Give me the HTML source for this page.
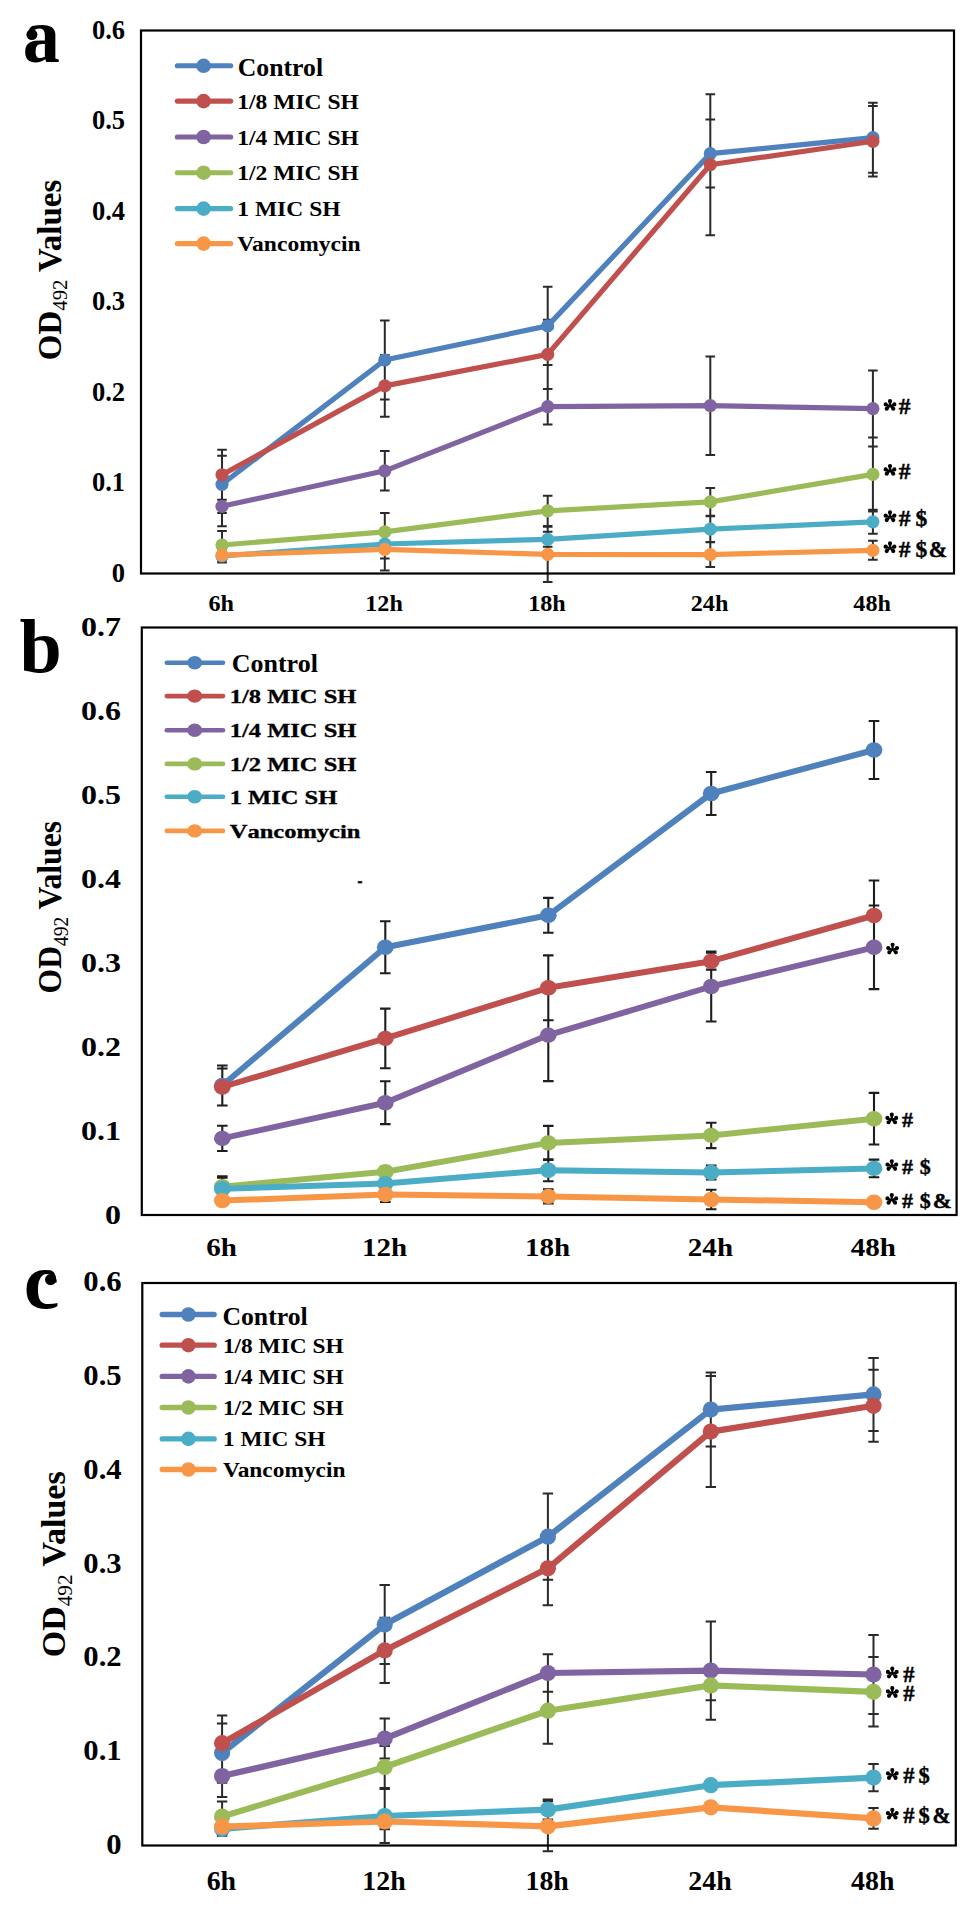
<!DOCTYPE html><html><head><meta charset="utf-8"><title>OD492 growth curves</title>
<style>html,body{margin:0;padding:0;background:#fff}body{width:968px;height:1907px;overflow:hidden}svg{display:block}text{font-family:"Liberation Serif",serif;font-weight:bold;fill:#000}.r{font-weight:normal}</style></head><body>
<svg width="968" height="1907" viewBox="0 0 968 1907">
<rect width="968" height="1907" fill="#fff"/>
<path d="M222 455.7V512.9M217.2 455.7H226.8M217.2 512.9H226.8M384.8 320.5V399.5M380 320.5H389.6M380 399.5H389.6M547.7 286.8V365M542.9 286.8H552.5M542.9 365H552.5M710.3 119.6V187.6M705.5 119.6H715.1M705.5 187.6H715.1M872.9 102.7V172.7M868.1 102.7H877.7M868.1 172.7H877.7M222 449.75V499.75M217.2 449.75H226.8M217.2 499.75H226.8M384.8 355.1V416.7M380 355.1H389.6M380 416.7H389.6M547.7 319.7V389.1M542.9 319.7H552.5M542.9 389.1H552.5M710.3 94.2V235.2M705.5 94.2H715.1M705.5 235.2H715.1M872.9 106.1V176.5M868.1 106.1H877.7M868.1 176.5H877.7M222 486.3V526.3M217.2 486.3H226.8M217.2 526.3H226.8M384.8 451V490.6M380 451H389.6M380 490.6H389.6M547.7 389V424.4M542.9 389H552.5M542.9 424.4H552.5M710.3 356.5V454.9M705.5 356.5H715.1M705.5 454.9H715.1M872.9 370.6V446.6M868.1 370.6H877.7M868.1 446.6H877.7M222 531V559M217.2 531H226.8M217.2 559H226.8M384.8 512.9V550.9M380 512.9H389.6M380 550.9H389.6M547.7 495.7V525.9M542.9 495.7H552.5M542.9 525.9H552.5M710.3 488V515.8M705.5 488H715.1M705.5 515.8H715.1M872.9 437.4V511.4M868.1 437.4H877.7M868.1 511.4H877.7M222 549.4V562.6M217.2 549.4H226.8M217.2 562.6H226.8M384.8 529.6V558.4M380 529.6H389.6M380 558.4H389.6M547.7 531.8V546.8M542.9 531.8H552.5M542.9 546.8H552.5M710.3 516.2V542.2M705.5 516.2H715.1M705.5 542.2H715.1M872.9 509.8V533.8M868.1 509.8H877.7M868.1 533.8H877.7M222 549.1V561.1M217.2 549.1H226.8M217.2 561.1H226.8M384.8 528.4V570.4M380 528.4H389.6M380 570.4H389.6M547.7 526.7V582.1M542.9 526.7H552.5M542.9 582.1H552.5M710.3 542.1V567.1M705.5 542.1H715.1M705.5 567.1H715.1M872.9 540.8V559.8M868.1 540.8H877.7M868.1 559.8H877.7" stroke="#2a2a2a" stroke-width="2" fill="none"/>
<polyline points="222,484.3 384.8,360 547.7,325.9 710.3,153.6 872.9,137.7" stroke="#4F81BD" stroke-width="5.2" fill="none" stroke-linejoin="round" stroke-linecap="round"/>
<circle cx="222" cy="484.3" r="6.6" fill="#4F81BD"/>
<circle cx="384.8" cy="360" r="6.6" fill="#4F81BD"/>
<circle cx="547.7" cy="325.9" r="6.6" fill="#4F81BD"/>
<circle cx="710.3" cy="153.6" r="6.6" fill="#4F81BD"/>
<circle cx="872.9" cy="137.7" r="6.6" fill="#4F81BD"/>
<polyline points="222,474.75 384.8,385.9 547.7,354.4 710.3,164.7 872.9,141.3" stroke="#C0504D" stroke-width="5.2" fill="none" stroke-linejoin="round" stroke-linecap="round"/>
<circle cx="222" cy="474.75" r="6.6" fill="#C0504D"/>
<circle cx="384.8" cy="385.9" r="6.6" fill="#C0504D"/>
<circle cx="547.7" cy="354.4" r="6.6" fill="#C0504D"/>
<circle cx="710.3" cy="164.7" r="6.6" fill="#C0504D"/>
<circle cx="872.9" cy="141.3" r="6.6" fill="#C0504D"/>
<polyline points="222,506.3 384.8,470.8 547.7,406.7 710.3,405.7 872.9,408.6" stroke="#8064A2" stroke-width="5.2" fill="none" stroke-linejoin="round" stroke-linecap="round"/>
<circle cx="222" cy="506.3" r="6.6" fill="#8064A2"/>
<circle cx="384.8" cy="470.8" r="6.6" fill="#8064A2"/>
<circle cx="547.7" cy="406.7" r="6.6" fill="#8064A2"/>
<circle cx="710.3" cy="405.7" r="6.6" fill="#8064A2"/>
<circle cx="872.9" cy="408.6" r="6.6" fill="#8064A2"/>
<polyline points="222,545 384.8,531.9 547.7,510.8 710.3,501.9 872.9,474.4" stroke="#9BBB59" stroke-width="5.2" fill="none" stroke-linejoin="round" stroke-linecap="round"/>
<circle cx="222" cy="545" r="6.6" fill="#9BBB59"/>
<circle cx="384.8" cy="531.9" r="6.6" fill="#9BBB59"/>
<circle cx="547.7" cy="510.8" r="6.6" fill="#9BBB59"/>
<circle cx="710.3" cy="501.9" r="6.6" fill="#9BBB59"/>
<circle cx="872.9" cy="474.4" r="6.6" fill="#9BBB59"/>
<polyline points="222,556 384.8,544 547.7,539.3 710.3,529.2 872.9,521.8" stroke="#4BACC6" stroke-width="5.2" fill="none" stroke-linejoin="round" stroke-linecap="round"/>
<circle cx="222" cy="556" r="6.6" fill="#4BACC6"/>
<circle cx="384.8" cy="544" r="6.6" fill="#4BACC6"/>
<circle cx="547.7" cy="539.3" r="6.6" fill="#4BACC6"/>
<circle cx="710.3" cy="529.2" r="6.6" fill="#4BACC6"/>
<circle cx="872.9" cy="521.8" r="6.6" fill="#4BACC6"/>
<polyline points="222,555.1 384.8,549.4 547.7,554.4 710.3,554.6 872.9,550.3" stroke="#F79646" stroke-width="5.2" fill="none" stroke-linejoin="round" stroke-linecap="round"/>
<circle cx="222" cy="555.1" r="6.6" fill="#F79646"/>
<circle cx="384.8" cy="549.4" r="6.6" fill="#F79646"/>
<circle cx="547.7" cy="554.4" r="6.6" fill="#F79646"/>
<circle cx="710.3" cy="554.6" r="6.6" fill="#F79646"/>
<circle cx="872.9" cy="550.3" r="6.6" fill="#F79646"/>
<rect x="141" y="30.5" width="813" height="543" fill="none" stroke="#000" stroke-width="2.2"/>
<path d="M222.3 1065.5V1105.5M217 1065.5H227.6M217 1105.5H227.6M385.3 921.3V973.3M380 921.3H390.6M380 973.3H390.6M548.3 897.9V932.7M543 897.9H553.6M543 932.7H553.6M711.2 772V815M705.9 772H716.5M705.9 815H716.5M874 721V779M868.7 721H879.3M868.7 779H879.3M222.3 1068.5V1105.5M217 1068.5H227.6M217 1105.5H227.6M385.3 1008.6V1068.2M380 1008.6H390.6M380 1068.2H390.6M548.3 955.4V1020.2M543 955.4H553.6M543 1020.2H553.6M711.2 952.8V969.6M705.9 952.8H716.5M705.9 969.6H716.5M874 880.5V950.5M868.7 880.5H879.3M868.7 950.5H879.3M222.3 1125.8V1151M217 1125.8H227.6M217 1151H227.6M385.3 1081.3V1124.1M380 1081.3H390.6M380 1124.1H390.6M548.3 989.1V1081.1M543 989.1H553.6M543 1081.1H553.6M711.2 951.5V1021.5M705.9 951.5H716.5M705.9 1021.5H716.5M874 905.5V989.1M868.7 905.5H879.3M868.7 989.1H879.3M222.3 1176.2V1197.2M217 1176.2H227.6M217 1197.2H227.6M385.3 1166.8V1176.8M380 1166.8H390.6M380 1176.8H390.6M548.3 1125.9V1159.9M543 1125.9H553.6M543 1159.9H553.6M711.2 1122.7V1148.1M705.9 1122.7H716.5M705.9 1148.1H716.5M874 1092.9V1144.5M868.7 1092.9H879.3M868.7 1144.5H879.3M222.3 1177.8V1199.8M217 1177.8H227.6M217 1199.8H227.6M385.3 1178.6V1188.6M380 1178.6H390.6M380 1188.6H390.6M548.3 1159.2V1181.2M543 1159.2H553.6M543 1181.2H553.6M711.2 1165.5V1179.5M705.9 1165.5H716.5M705.9 1179.5H716.5M874 1159.6V1177.2M868.7 1159.6H879.3M868.7 1177.2H879.3M222.3 1197.6V1203.6M217 1197.6H227.6M217 1203.6H227.6M385.3 1187V1202M380 1187H390.6M380 1202H390.6M548.3 1189.4V1203.4M543 1189.4H553.6M543 1203.4H553.6M711.2 1189.8V1209.2M705.9 1189.8H716.5M705.9 1209.2H716.5M874 1198.3V1206.3M868.7 1198.3H879.3M868.7 1206.3H879.3" stroke="#1e1e1e" stroke-width="2.1" fill="none"/>
<polyline points="222.3,1085.5 385.3,947.3 548.3,915.3 711.2,793.5 874,750" stroke="#4F81BD" stroke-width="6" fill="none" stroke-linejoin="round" stroke-linecap="round"/>
<ellipse cx="222.3" cy="1085.5" rx="8.4" ry="7.7" fill="#4F81BD"/>
<ellipse cx="385.3" cy="947.3" rx="8.4" ry="7.7" fill="#4F81BD"/>
<ellipse cx="548.3" cy="915.3" rx="8.4" ry="7.7" fill="#4F81BD"/>
<ellipse cx="711.2" cy="793.5" rx="8.4" ry="7.7" fill="#4F81BD"/>
<ellipse cx="874" cy="750" rx="8.4" ry="7.7" fill="#4F81BD"/>
<polyline points="222.3,1087 385.3,1038.4 548.3,987.8 711.2,961.2 874,915.5" stroke="#C0504D" stroke-width="6" fill="none" stroke-linejoin="round" stroke-linecap="round"/>
<ellipse cx="222.3" cy="1087" rx="8.4" ry="7.7" fill="#C0504D"/>
<ellipse cx="385.3" cy="1038.4" rx="8.4" ry="7.7" fill="#C0504D"/>
<ellipse cx="548.3" cy="987.8" rx="8.4" ry="7.7" fill="#C0504D"/>
<ellipse cx="711.2" cy="961.2" rx="8.4" ry="7.7" fill="#C0504D"/>
<ellipse cx="874" cy="915.5" rx="8.4" ry="7.7" fill="#C0504D"/>
<polyline points="222.3,1138.4 385.3,1102.7 548.3,1035.1 711.2,986.5 874,947.3" stroke="#8064A2" stroke-width="6" fill="none" stroke-linejoin="round" stroke-linecap="round"/>
<ellipse cx="222.3" cy="1138.4" rx="8.4" ry="7.7" fill="#8064A2"/>
<ellipse cx="385.3" cy="1102.7" rx="8.4" ry="7.7" fill="#8064A2"/>
<ellipse cx="548.3" cy="1035.1" rx="8.4" ry="7.7" fill="#8064A2"/>
<ellipse cx="711.2" cy="986.5" rx="8.4" ry="7.7" fill="#8064A2"/>
<ellipse cx="874" cy="947.3" rx="8.4" ry="7.7" fill="#8064A2"/>
<polyline points="222.3,1186.7 385.3,1171.8 548.3,1142.9 711.2,1135.4 874,1118.7" stroke="#9BBB59" stroke-width="6" fill="none" stroke-linejoin="round" stroke-linecap="round"/>
<ellipse cx="222.3" cy="1186.7" rx="8.4" ry="7.7" fill="#9BBB59"/>
<ellipse cx="385.3" cy="1171.8" rx="8.4" ry="7.7" fill="#9BBB59"/>
<ellipse cx="548.3" cy="1142.9" rx="8.4" ry="7.7" fill="#9BBB59"/>
<ellipse cx="711.2" cy="1135.4" rx="8.4" ry="7.7" fill="#9BBB59"/>
<ellipse cx="874" cy="1118.7" rx="8.4" ry="7.7" fill="#9BBB59"/>
<polyline points="222.3,1188.8 385.3,1183.6 548.3,1170.2 711.2,1172.5 874,1168.4" stroke="#4BACC6" stroke-width="6" fill="none" stroke-linejoin="round" stroke-linecap="round"/>
<ellipse cx="222.3" cy="1188.8" rx="8.4" ry="7.7" fill="#4BACC6"/>
<ellipse cx="385.3" cy="1183.6" rx="8.4" ry="7.7" fill="#4BACC6"/>
<ellipse cx="548.3" cy="1170.2" rx="8.4" ry="7.7" fill="#4BACC6"/>
<ellipse cx="711.2" cy="1172.5" rx="8.4" ry="7.7" fill="#4BACC6"/>
<ellipse cx="874" cy="1168.4" rx="8.4" ry="7.7" fill="#4BACC6"/>
<polyline points="222.3,1200.6 385.3,1194.5 548.3,1196.4 711.2,1199.5 874,1202.3" stroke="#F79646" stroke-width="6" fill="none" stroke-linejoin="round" stroke-linecap="round"/>
<ellipse cx="222.3" cy="1200.6" rx="8.4" ry="7.7" fill="#F79646"/>
<ellipse cx="385.3" cy="1194.5" rx="8.4" ry="7.7" fill="#F79646"/>
<ellipse cx="548.3" cy="1196.4" rx="8.4" ry="7.7" fill="#F79646"/>
<ellipse cx="711.2" cy="1199.5" rx="8.4" ry="7.7" fill="#F79646"/>
<ellipse cx="874" cy="1202.3" rx="8.4" ry="7.7" fill="#F79646"/>
<rect x="141.8" y="627.5" width="814.8" height="587.5" fill="none" stroke="#000" stroke-width="2.2"/>
<path d="M222.1 1723.4V1782.8M216.9 1723.4H227.3M216.9 1782.8H227.3M384.7 1585.1V1664.1M379.5 1585.1H389.9M379.5 1664.1H389.9M547.9 1493.6V1579.8M542.7 1493.6H553.1M542.7 1579.8H553.1M710.8 1372.6V1446.6M705.6 1372.6H716M705.6 1446.6H716M873.5 1357.9V1430.9M868.3 1357.9H878.7M868.3 1430.9H878.7M222.1 1715.6V1770.8M216.9 1715.6H227.3M216.9 1770.8H227.3M384.7 1617.7V1683.1M379.5 1617.7H389.9M379.5 1683.1H389.9M547.9 1531.4V1605.2M542.7 1531.4H553.1M542.7 1605.2H553.1M710.8 1376.1V1487.1M705.6 1376.1H716M705.6 1487.1H716M873.5 1369.8V1441.8M868.3 1369.8H878.7M868.3 1441.8H878.7M222.1 1755.1V1797.1M216.9 1755.1H227.3M216.9 1797.1H227.3M384.7 1718.6V1758.6M379.5 1718.6H389.9M379.5 1758.6H389.9M547.9 1654.3V1691.7M542.7 1654.3H553.1M542.7 1691.7H553.1M710.8 1621.4V1719.8M705.6 1621.4H716M705.6 1719.8H716M873.5 1635V1714M868.3 1635H878.7M868.3 1714H878.7M222.1 1801.4V1831.8M216.9 1801.4H227.3M216.9 1831.8H227.3M384.7 1746V1788M379.5 1746H389.9M379.5 1788H389.9M547.9 1677.7V1743.7M542.7 1677.7H553.1M542.7 1743.7H553.1M710.8 1670.6V1700.2M705.6 1670.6H716M705.6 1700.2H716M873.5 1657V1726.6M868.3 1657H878.7M868.3 1726.6H878.7M222.1 1821.8V1835.8M216.9 1821.8H227.3M216.9 1835.8H227.3M384.7 1789V1843M379.5 1789H389.9M379.5 1843H389.9M547.9 1799.6V1819.6M542.7 1799.6H553.1M542.7 1819.6H553.1M710.8 1782.2V1788.2M705.6 1782.2H716M705.6 1788.2H716M873.5 1764V1791.2M868.3 1764H878.7M868.3 1791.2H878.7M222.1 1819.7V1833.7M216.9 1819.7H227.3M216.9 1833.7H227.3M384.7 1813.7V1829.3M379.5 1813.7H389.9M379.5 1829.3H389.9M547.9 1801.3V1851.3M542.7 1801.3H553.1M542.7 1851.3H553.1M710.8 1802.3V1812.3M705.6 1802.3H716M705.6 1812.3H716M873.5 1808V1828.8M868.3 1808H878.7M868.3 1828.8H878.7" stroke="#2a2a2a" stroke-width="2" fill="none"/>
<polyline points="222.1,1753.1 384.7,1624.6 547.9,1536.7 710.8,1409.6 873.5,1394.4" stroke="#4F81BD" stroke-width="6.2" fill="none" stroke-linejoin="round" stroke-linecap="round"/>
<circle cx="222.1" cy="1753.1" r="8.1" fill="#4F81BD"/>
<circle cx="384.7" cy="1624.6" r="8.1" fill="#4F81BD"/>
<circle cx="547.9" cy="1536.7" r="8.1" fill="#4F81BD"/>
<circle cx="710.8" cy="1409.6" r="8.1" fill="#4F81BD"/>
<circle cx="873.5" cy="1394.4" r="8.1" fill="#4F81BD"/>
<polyline points="222.1,1743.2 384.7,1650.4 547.9,1568.3 710.8,1431.6 873.5,1405.8" stroke="#C0504D" stroke-width="6.2" fill="none" stroke-linejoin="round" stroke-linecap="round"/>
<circle cx="222.1" cy="1743.2" r="8.1" fill="#C0504D"/>
<circle cx="384.7" cy="1650.4" r="8.1" fill="#C0504D"/>
<circle cx="547.9" cy="1568.3" r="8.1" fill="#C0504D"/>
<circle cx="710.8" cy="1431.6" r="8.1" fill="#C0504D"/>
<circle cx="873.5" cy="1405.8" r="8.1" fill="#C0504D"/>
<polyline points="222.1,1776.1 384.7,1738.6 547.9,1673 710.8,1670.6 873.5,1674.5" stroke="#8064A2" stroke-width="6.2" fill="none" stroke-linejoin="round" stroke-linecap="round"/>
<circle cx="222.1" cy="1776.1" r="8.1" fill="#8064A2"/>
<circle cx="384.7" cy="1738.6" r="8.1" fill="#8064A2"/>
<circle cx="547.9" cy="1673" r="8.1" fill="#8064A2"/>
<circle cx="710.8" cy="1670.6" r="8.1" fill="#8064A2"/>
<circle cx="873.5" cy="1674.5" r="8.1" fill="#8064A2"/>
<polyline points="222.1,1816.6 384.7,1767 547.9,1710.7 710.8,1685.4 873.5,1691.8" stroke="#9BBB59" stroke-width="6.2" fill="none" stroke-linejoin="round" stroke-linecap="round"/>
<circle cx="222.1" cy="1816.6" r="8.1" fill="#9BBB59"/>
<circle cx="384.7" cy="1767" r="8.1" fill="#9BBB59"/>
<circle cx="547.9" cy="1710.7" r="8.1" fill="#9BBB59"/>
<circle cx="710.8" cy="1685.4" r="8.1" fill="#9BBB59"/>
<circle cx="873.5" cy="1691.8" r="8.1" fill="#9BBB59"/>
<polyline points="222.1,1828.8 384.7,1816 547.9,1809.6 710.8,1785.2 873.5,1777.6" stroke="#4BACC6" stroke-width="6.2" fill="none" stroke-linejoin="round" stroke-linecap="round"/>
<circle cx="222.1" cy="1828.8" r="8.1" fill="#4BACC6"/>
<circle cx="384.7" cy="1816" r="8.1" fill="#4BACC6"/>
<circle cx="547.9" cy="1809.6" r="8.1" fill="#4BACC6"/>
<circle cx="710.8" cy="1785.2" r="8.1" fill="#4BACC6"/>
<circle cx="873.5" cy="1777.6" r="8.1" fill="#4BACC6"/>
<polyline points="222.1,1826.7 384.7,1821.5 547.9,1826.3 710.8,1807.3 873.5,1818.4" stroke="#F79646" stroke-width="6.2" fill="none" stroke-linejoin="round" stroke-linecap="round"/>
<circle cx="222.1" cy="1826.7" r="8.1" fill="#F79646"/>
<circle cx="384.7" cy="1821.5" r="8.1" fill="#F79646"/>
<circle cx="547.9" cy="1826.3" r="8.1" fill="#F79646"/>
<circle cx="710.8" cy="1807.3" r="8.1" fill="#F79646"/>
<circle cx="873.5" cy="1818.4" r="8.1" fill="#F79646"/>
<rect x="142.3" y="1283" width="813.5" height="562.5" fill="none" stroke="#000" stroke-width="2.2"/>
<text transform="translate(22.66 61.9) scale(0.94 1)" font-size="79">a</text>
<text x="19.6" y="671.5" font-size="76">b</text>
<text x="23.8" y="1307.7" font-size="80.5">c</text>
<text x="125" y="581.5" font-size="26.5" text-anchor="end">0</text>
<text x="125" y="491" font-size="26.5" text-anchor="end">0.1</text>
<text x="125" y="400.5" font-size="26.5" text-anchor="end">0.2</text>
<text x="125" y="310" font-size="26.5" text-anchor="end">0.3</text>
<text x="125" y="219.5" font-size="26.5" text-anchor="end">0.4</text>
<text x="125" y="129" font-size="26.5" text-anchor="end">0.5</text>
<text x="125" y="38.5" font-size="26.5" text-anchor="end">0.6</text>
<text transform="translate(120.9 1223.9) scale(1.13 1)" font-size="28.3" text-anchor="end">0</text>
<text transform="translate(120.9 1139.97) scale(1.13 1)" font-size="28.3" text-anchor="end">0.1</text>
<text transform="translate(120.9 1056.04) scale(1.13 1)" font-size="28.3" text-anchor="end">0.2</text>
<text transform="translate(120.9 972.11) scale(1.13 1)" font-size="28.3" text-anchor="end">0.3</text>
<text transform="translate(120.9 888.19) scale(1.13 1)" font-size="28.3" text-anchor="end">0.4</text>
<text transform="translate(120.9 804.26) scale(1.13 1)" font-size="28.3" text-anchor="end">0.5</text>
<text transform="translate(120.9 720.33) scale(1.13 1)" font-size="28.3" text-anchor="end">0.6</text>
<text transform="translate(120.9 636.4) scale(1.13 1)" font-size="28.3" text-anchor="end">0.7</text>
<text transform="translate(121.7 1853.96) scale(1.04 1)" font-size="29.5" text-anchor="end">0</text>
<text transform="translate(121.7 1760.21) scale(1.04 1)" font-size="29.5" text-anchor="end">0.1</text>
<text transform="translate(121.7 1666.46) scale(1.04 1)" font-size="29.5" text-anchor="end">0.2</text>
<text transform="translate(121.7 1572.71) scale(1.04 1)" font-size="29.5" text-anchor="end">0.3</text>
<text transform="translate(121.7 1478.96) scale(1.04 1)" font-size="29.5" text-anchor="end">0.4</text>
<text transform="translate(121.7 1385.21) scale(1.04 1)" font-size="29.5" text-anchor="end">0.5</text>
<text transform="translate(121.7 1291.46) scale(1.04 1)" font-size="29.5" text-anchor="end">0.6</text>
<text transform="translate(221.25 610.5) scale(1.05 1)" font-size="23" text-anchor="middle">6h</text>
<text transform="translate(384.05 610.5) scale(1.05 1)" font-size="23" text-anchor="middle">12h</text>
<text transform="translate(546.95 610.5) scale(1.05 1)" font-size="23" text-anchor="middle">18h</text>
<text transform="translate(709.55 610.5) scale(1.05 1)" font-size="23" text-anchor="middle">24h</text>
<text transform="translate(872.15 610.5) scale(1.05 1)" font-size="23" text-anchor="middle">48h</text>
<text transform="translate(221.55 1255.7) scale(1.2 1)" font-size="24.2" text-anchor="middle">6h</text>
<text transform="translate(384.55 1255.7) scale(1.2 1)" font-size="24.2" text-anchor="middle">12h</text>
<text transform="translate(547.55 1255.7) scale(1.2 1)" font-size="24.2" text-anchor="middle">18h</text>
<text transform="translate(710.45 1255.7) scale(1.2 1)" font-size="24.2" text-anchor="middle">24h</text>
<text transform="translate(873.25 1255.7) scale(1.2 1)" font-size="24.2" text-anchor="middle">48h</text>
<text transform="translate(221.35 1889.5) scale(1.06 1)" font-size="26.3" text-anchor="middle">6h</text>
<text transform="translate(383.95 1889.5) scale(1.06 1)" font-size="26.3" text-anchor="middle">12h</text>
<text transform="translate(547.15 1889.5) scale(1.06 1)" font-size="26.3" text-anchor="middle">18h</text>
<text transform="translate(710.05 1889.5) scale(1.06 1)" font-size="26.3" text-anchor="middle">24h</text>
<text transform="translate(872.75 1889.5) scale(1.06 1)" font-size="26.3" text-anchor="middle">48h</text>
<line x1="177.3" y1="65.8" x2="230.7" y2="65.8" stroke="#4F81BD" stroke-width="5.1" stroke-linecap="round"/>
<circle cx="203.6" cy="65.8" r="7.3" fill="#4F81BD"/>
<text transform="translate(237.8 75.8) scale(1.05 1)" font-size="24.5">Control</text>
<line x1="177.3" y1="101.1" x2="230.7" y2="101.1" stroke="#C0504D" stroke-width="5.1" stroke-linecap="round"/>
<circle cx="203.6" cy="101.1" r="7.3" fill="#C0504D"/>
<text transform="translate(237.3 108.6) scale(1.11 1)" font-size="21.2">1/8 MIC SH</text>
<line x1="177.3" y1="137" x2="230.7" y2="137" stroke="#8064A2" stroke-width="5.1" stroke-linecap="round"/>
<circle cx="203.6" cy="137" r="7.3" fill="#8064A2"/>
<text transform="translate(237.3 144.5) scale(1.11 1)" font-size="21.2">1/4 MIC SH</text>
<line x1="177.3" y1="172.7" x2="230.7" y2="172.7" stroke="#9BBB59" stroke-width="5.1" stroke-linecap="round"/>
<circle cx="203.6" cy="172.7" r="7.3" fill="#9BBB59"/>
<text transform="translate(237.3 180.2) scale(1.11 1)" font-size="21.2">1/2 MIC SH</text>
<line x1="177.3" y1="208.6" x2="230.7" y2="208.6" stroke="#4BACC6" stroke-width="5.1" stroke-linecap="round"/>
<circle cx="203.6" cy="208.6" r="7.3" fill="#4BACC6"/>
<text transform="translate(237.3 216.1) scale(1.11 1)" font-size="21.2">1 MIC SH</text>
<line x1="177.3" y1="243.6" x2="230.7" y2="243.6" stroke="#F79646" stroke-width="5.1" stroke-linecap="round"/>
<circle cx="203.6" cy="243.6" r="7.3" fill="#F79646"/>
<text transform="translate(237.3 251.1) scale(1.11 1)" font-size="21.2">Vancomycin</text>
<line x1="166.8" y1="662.8" x2="223" y2="662.8" stroke="#4F81BD" stroke-width="4.6" stroke-linecap="round"/>
<ellipse cx="194.7" cy="662.8" rx="7.5" ry="6.7" fill="#4F81BD"/>
<text transform="translate(231.7 672.2) scale(1.02 1)" font-size="25.5">Control</text>
<line x1="166.8" y1="696.1" x2="223" y2="696.1" stroke="#C0504D" stroke-width="4.6" stroke-linecap="round"/>
<ellipse cx="194.7" cy="696.1" rx="7.5" ry="6.7" fill="#C0504D"/>
<text transform="translate(229.7 703.3) scale(1.34 1)" font-size="18.3" style="font-kerning:none" stroke="#000" stroke-width="0.3">1/8 MIC SH</text>
<line x1="166.8" y1="730.2" x2="223" y2="730.2" stroke="#8064A2" stroke-width="4.6" stroke-linecap="round"/>
<ellipse cx="194.7" cy="730.2" rx="7.5" ry="6.7" fill="#8064A2"/>
<text transform="translate(229.7 737.4) scale(1.34 1)" font-size="18.3" style="font-kerning:none" stroke="#000" stroke-width="0.3">1/4 MIC SH</text>
<line x1="166.8" y1="763.9" x2="223" y2="763.9" stroke="#9BBB59" stroke-width="4.6" stroke-linecap="round"/>
<ellipse cx="194.7" cy="763.9" rx="7.5" ry="6.7" fill="#9BBB59"/>
<text transform="translate(229.7 771.1) scale(1.34 1)" font-size="18.3" style="font-kerning:none" stroke="#000" stroke-width="0.3">1/2 MIC SH</text>
<line x1="166.8" y1="796.8" x2="223" y2="796.8" stroke="#4BACC6" stroke-width="4.6" stroke-linecap="round"/>
<ellipse cx="194.7" cy="796.8" rx="7.5" ry="6.7" fill="#4BACC6"/>
<text transform="translate(229.7 804) scale(1.34 1)" font-size="18.3" style="font-kerning:none" stroke="#000" stroke-width="0.3">1 MIC SH</text>
<line x1="166.8" y1="830.9" x2="223" y2="830.9" stroke="#F79646" stroke-width="4.6" stroke-linecap="round"/>
<ellipse cx="194.7" cy="830.9" rx="7.5" ry="6.7" fill="#F79646"/>
<text transform="translate(229.7 838.1) scale(1.34 1)" font-size="18.3" style="font-kerning:none" stroke="#000" stroke-width="0.3">Vancomycin</text>
<line x1="162.2" y1="1314.5" x2="214.2" y2="1314.5" stroke="#4F81BD" stroke-width="5.3" stroke-linecap="round"/>
<circle cx="188.4" cy="1314.5" r="7.3" fill="#4F81BD"/>
<text transform="translate(222.4 1324.5) scale(1.05 1)" font-size="24.5">Control</text>
<line x1="162.2" y1="1345.2" x2="214.2" y2="1345.2" stroke="#C0504D" stroke-width="5.3" stroke-linecap="round"/>
<circle cx="188.4" cy="1345.2" r="7.3" fill="#C0504D"/>
<text transform="translate(222.9 1352.7) scale(1.13 1)" font-size="20.7">1/8 MIC SH</text>
<line x1="162.2" y1="1376.4" x2="214.2" y2="1376.4" stroke="#8064A2" stroke-width="5.3" stroke-linecap="round"/>
<circle cx="188.4" cy="1376.4" r="7.3" fill="#8064A2"/>
<text transform="translate(222.9 1383.9) scale(1.13 1)" font-size="20.7">1/4 MIC SH</text>
<line x1="162.2" y1="1407.5" x2="214.2" y2="1407.5" stroke="#9BBB59" stroke-width="5.3" stroke-linecap="round"/>
<circle cx="188.4" cy="1407.5" r="7.3" fill="#9BBB59"/>
<text transform="translate(222.9 1415) scale(1.13 1)" font-size="20.7">1/2 MIC SH</text>
<line x1="162.2" y1="1438.9" x2="214.2" y2="1438.9" stroke="#4BACC6" stroke-width="5.3" stroke-linecap="round"/>
<circle cx="188.4" cy="1438.9" r="7.3" fill="#4BACC6"/>
<text transform="translate(222.9 1446.4) scale(1.13 1)" font-size="20.7">1 MIC SH</text>
<line x1="162.2" y1="1469.5" x2="214.2" y2="1469.5" stroke="#F79646" stroke-width="5.3" stroke-linecap="round"/>
<circle cx="188.4" cy="1469.5" r="7.3" fill="#F79646"/>
<text transform="translate(222.9 1477) scale(1.13 1)" font-size="20.7">Vancomycin</text>
<path d="M890.45 406.17L891.89 401.13L888.11 401.13L889.55 406.17ZM887.9 401.13a2.1 2.1 0 1 0 4.2 0a2.1 2.1 0 1 0 -4.2 0ZM890.17 406.59L895.07 406.17L893.65 402.66L889.83 405.76ZM892.26 404.41a2.1 2.1 0 1 0 4.2 0a2.1 2.1 0 1 0 -4.2 0ZM890.17 405.76L886.35 402.66L884.93 406.17L889.83 406.59ZM883.54 404.41a2.1 2.1 0 1 0 4.2 0a2.1 2.1 0 1 0 -4.2 0ZM889.72 406.53L892.11 410.22L894.44 407.24L890.28 405.82ZM891.17 408.73a2.1 2.1 0 1 0 4.2 0a2.1 2.1 0 1 0 -4.2 0ZM889.72 405.82L885.56 407.24L887.89 410.22L890.28 406.53ZM884.63 408.73a2.1 2.1 0 1 0 4.2 0a2.1 2.1 0 1 0 -4.2 0Z" fill="#000"/>
<text x="898.65" y="414.4" font-size="23.5" stroke="#000" stroke-width="0.45">#</text>
<path d="M890.45 471.17L891.89 466.13L888.11 466.13L889.55 471.17ZM887.9 466.13a2.1 2.1 0 1 0 4.2 0a2.1 2.1 0 1 0 -4.2 0ZM890.17 471.59L895.07 471.17L893.65 467.66L889.83 470.76ZM892.26 469.41a2.1 2.1 0 1 0 4.2 0a2.1 2.1 0 1 0 -4.2 0ZM890.17 470.76L886.35 467.66L884.93 471.17L889.83 471.59ZM883.54 469.41a2.1 2.1 0 1 0 4.2 0a2.1 2.1 0 1 0 -4.2 0ZM889.72 471.53L892.11 475.22L894.44 472.24L890.28 470.82ZM891.17 473.73a2.1 2.1 0 1 0 4.2 0a2.1 2.1 0 1 0 -4.2 0ZM889.72 470.82L885.56 472.24L887.89 475.22L890.28 471.53ZM884.63 473.73a2.1 2.1 0 1 0 4.2 0a2.1 2.1 0 1 0 -4.2 0Z" fill="#000"/>
<text x="898.65" y="479.4" font-size="23.5" stroke="#000" stroke-width="0.45">#</text>
<path d="M890.45 517.48L891.89 512.44L888.11 512.44L889.55 517.48ZM887.9 512.44a2.1 2.1 0 1 0 4.2 0a2.1 2.1 0 1 0 -4.2 0ZM890.17 517.89L895.07 517.47L893.65 513.96L889.83 517.06ZM892.26 515.71a2.1 2.1 0 1 0 4.2 0a2.1 2.1 0 1 0 -4.2 0ZM890.17 517.06L886.35 513.96L884.93 517.47L889.83 517.89ZM883.54 515.71a2.1 2.1 0 1 0 4.2 0a2.1 2.1 0 1 0 -4.2 0ZM889.72 517.83L892.11 521.52L894.44 518.54L890.28 517.12ZM891.17 520.03a2.1 2.1 0 1 0 4.2 0a2.1 2.1 0 1 0 -4.2 0ZM889.72 517.12L885.56 518.54L887.89 521.52L890.28 517.83ZM884.63 520.03a2.1 2.1 0 1 0 4.2 0a2.1 2.1 0 1 0 -4.2 0Z" fill="#000"/>
<text x="898.65" y="525.7" font-size="23.5" stroke="#000" stroke-width="0.45">#</text>
<text x="915.5" y="525.7" font-size="23.5" stroke="#000" stroke-width="0.45">$</text>
<path d="M890.45 548.48L891.89 543.44L888.11 543.44L889.55 548.48ZM887.9 543.44a2.1 2.1 0 1 0 4.2 0a2.1 2.1 0 1 0 -4.2 0ZM890.17 548.89L895.07 548.47L893.65 544.96L889.83 548.06ZM892.26 546.71a2.1 2.1 0 1 0 4.2 0a2.1 2.1 0 1 0 -4.2 0ZM890.17 548.06L886.35 544.96L884.93 548.47L889.83 548.89ZM883.54 546.71a2.1 2.1 0 1 0 4.2 0a2.1 2.1 0 1 0 -4.2 0ZM889.72 548.83L892.11 552.52L894.44 549.54L890.28 548.12ZM891.17 551.03a2.1 2.1 0 1 0 4.2 0a2.1 2.1 0 1 0 -4.2 0ZM889.72 548.12L885.56 549.54L887.89 552.52L890.28 548.83ZM884.63 551.03a2.1 2.1 0 1 0 4.2 0a2.1 2.1 0 1 0 -4.2 0Z" fill="#000"/>
<text x="898.65" y="556.7" font-size="23.5" stroke="#000" stroke-width="0.45">#</text>
<text x="915.5" y="556.7" font-size="23.5" stroke="#000" stroke-width="0.45">$</text>
<text transform="translate(928.7 556.7) scale(0.94 1)" font-size="23.5" stroke="#000" stroke-width="0.45">&amp;</text>
<path d="M893.05 949.8L894.49 944.76L890.71 944.76L892.15 949.8ZM890.5 944.76a2.1 2.1 0 1 0 4.2 0a2.1 2.1 0 1 0 -4.2 0ZM892.77 950.22L897.67 949.79L896.25 946.29L892.43 949.38ZM894.86 948.04a2.1 2.1 0 1 0 4.2 0a2.1 2.1 0 1 0 -4.2 0ZM892.77 949.38L888.95 946.29L887.53 949.79L892.43 950.22ZM886.14 948.04a2.1 2.1 0 1 0 4.2 0a2.1 2.1 0 1 0 -4.2 0ZM892.32 950.15L894.71 953.85L897.04 950.87L892.88 949.45ZM893.77 952.36a2.1 2.1 0 1 0 4.2 0a2.1 2.1 0 1 0 -4.2 0ZM892.32 949.45L888.16 950.87L890.49 953.85L892.88 950.15ZM887.23 952.36a2.1 2.1 0 1 0 4.2 0a2.1 2.1 0 1 0 -4.2 0Z" fill="#000"/>
<path d="M892.25 1119.7L893.69 1114.66L889.91 1114.66L891.35 1119.7ZM889.7 1114.66a2.1 2.1 0 1 0 4.2 0a2.1 2.1 0 1 0 -4.2 0ZM891.97 1120.12L896.87 1119.69L895.45 1116.19L891.63 1119.28ZM894.06 1117.94a2.1 2.1 0 1 0 4.2 0a2.1 2.1 0 1 0 -4.2 0ZM891.97 1119.28L888.15 1116.19L886.73 1119.69L891.63 1120.12ZM885.34 1117.94a2.1 2.1 0 1 0 4.2 0a2.1 2.1 0 1 0 -4.2 0ZM891.52 1120.05L893.91 1123.75L896.24 1120.77L892.08 1119.35ZM892.97 1122.26a2.1 2.1 0 1 0 4.2 0a2.1 2.1 0 1 0 -4.2 0ZM891.52 1119.35L887.36 1120.77L889.69 1123.75L892.08 1120.05ZM886.43 1122.26a2.1 2.1 0 1 0 4.2 0a2.1 2.1 0 1 0 -4.2 0Z" fill="#000"/>
<text x="902" y="1127.4" font-size="22" stroke="#000" stroke-width="0.45">#</text>
<path d="M892.25 1166.3L893.69 1161.26L889.91 1161.26L891.35 1166.3ZM889.7 1161.26a2.1 2.1 0 1 0 4.2 0a2.1 2.1 0 1 0 -4.2 0ZM891.97 1166.72L896.87 1166.29L895.45 1162.79L891.63 1165.88ZM894.06 1164.54a2.1 2.1 0 1 0 4.2 0a2.1 2.1 0 1 0 -4.2 0ZM891.97 1165.88L888.15 1162.79L886.73 1166.29L891.63 1166.72ZM885.34 1164.54a2.1 2.1 0 1 0 4.2 0a2.1 2.1 0 1 0 -4.2 0ZM891.52 1166.65L893.91 1170.35L896.24 1167.37L892.08 1165.95ZM892.97 1168.86a2.1 2.1 0 1 0 4.2 0a2.1 2.1 0 1 0 -4.2 0ZM891.52 1165.95L887.36 1167.37L889.69 1170.35L892.08 1166.65ZM886.43 1168.86a2.1 2.1 0 1 0 4.2 0a2.1 2.1 0 1 0 -4.2 0Z" fill="#000"/>
<text x="902" y="1174" font-size="22" stroke="#000" stroke-width="0.45">#</text>
<text x="919.7" y="1174" font-size="22" stroke="#000" stroke-width="0.45">$</text>
<path d="M892.25 1200.2L893.69 1195.16L889.91 1195.16L891.35 1200.2ZM889.7 1195.16a2.1 2.1 0 1 0 4.2 0a2.1 2.1 0 1 0 -4.2 0ZM891.97 1200.62L896.87 1200.19L895.45 1196.69L891.63 1199.78ZM894.06 1198.44a2.1 2.1 0 1 0 4.2 0a2.1 2.1 0 1 0 -4.2 0ZM891.97 1199.78L888.15 1196.69L886.73 1200.19L891.63 1200.62ZM885.34 1198.44a2.1 2.1 0 1 0 4.2 0a2.1 2.1 0 1 0 -4.2 0ZM891.52 1200.55L893.91 1204.25L896.24 1201.27L892.08 1199.85ZM892.97 1202.76a2.1 2.1 0 1 0 4.2 0a2.1 2.1 0 1 0 -4.2 0ZM891.52 1199.85L887.36 1201.27L889.69 1204.25L892.08 1200.55ZM886.43 1202.76a2.1 2.1 0 1 0 4.2 0a2.1 2.1 0 1 0 -4.2 0Z" fill="#000"/>
<text x="902" y="1207.9" font-size="22" stroke="#000" stroke-width="0.45">#</text>
<text x="919.7" y="1207.9" font-size="22" stroke="#000" stroke-width="0.45">$</text>
<text transform="translate(932.7 1207.9) scale(1.04 1)" font-size="22" stroke="#000" stroke-width="0.45">&amp;</text>
<path d="M892.75 1673.72L894.19 1668.68L890.41 1668.68L891.85 1673.72ZM890.2 1668.68a2.1 2.1 0 1 0 4.2 0a2.1 2.1 0 1 0 -4.2 0ZM892.47 1674.14L897.37 1673.72L895.95 1670.21L892.13 1673.31ZM894.56 1671.96a2.1 2.1 0 1 0 4.2 0a2.1 2.1 0 1 0 -4.2 0ZM892.47 1673.31L888.65 1670.21L887.23 1673.72L892.13 1674.14ZM885.84 1671.96a2.1 2.1 0 1 0 4.2 0a2.1 2.1 0 1 0 -4.2 0ZM892.02 1674.08L894.41 1677.77L896.74 1674.79L892.58 1673.37ZM893.47 1676.28a2.1 2.1 0 1 0 4.2 0a2.1 2.1 0 1 0 -4.2 0ZM892.02 1673.37L887.86 1674.79L890.19 1677.77L892.58 1674.08ZM886.93 1676.28a2.1 2.1 0 1 0 4.2 0a2.1 2.1 0 1 0 -4.2 0Z" fill="#000"/>
<text x="903.3" y="1681.6" font-size="22.5" stroke="#000" stroke-width="0.45">#</text>
<path d="M892.75 1693.22L894.19 1688.18L890.41 1688.18L891.85 1693.22ZM890.2 1688.18a2.1 2.1 0 1 0 4.2 0a2.1 2.1 0 1 0 -4.2 0ZM892.47 1693.64L897.37 1693.22L895.95 1689.71L892.13 1692.81ZM894.56 1691.46a2.1 2.1 0 1 0 4.2 0a2.1 2.1 0 1 0 -4.2 0ZM892.47 1692.81L888.65 1689.71L887.23 1693.22L892.13 1693.64ZM885.84 1691.46a2.1 2.1 0 1 0 4.2 0a2.1 2.1 0 1 0 -4.2 0ZM892.02 1693.58L894.41 1697.27L896.74 1694.29L892.58 1692.87ZM893.47 1695.78a2.1 2.1 0 1 0 4.2 0a2.1 2.1 0 1 0 -4.2 0ZM892.02 1692.87L887.86 1694.29L890.19 1697.27L892.58 1693.58ZM886.93 1695.78a2.1 2.1 0 1 0 4.2 0a2.1 2.1 0 1 0 -4.2 0Z" fill="#000"/>
<text x="903.3" y="1701.1" font-size="22.5" stroke="#000" stroke-width="0.45">#</text>
<path d="M892.75 1775.22L894.19 1770.18L890.41 1770.18L891.85 1775.22ZM890.2 1770.18a2.1 2.1 0 1 0 4.2 0a2.1 2.1 0 1 0 -4.2 0ZM892.47 1775.64L897.37 1775.22L895.95 1771.71L892.13 1774.81ZM894.56 1773.46a2.1 2.1 0 1 0 4.2 0a2.1 2.1 0 1 0 -4.2 0ZM892.47 1774.81L888.65 1771.71L887.23 1775.22L892.13 1775.64ZM885.84 1773.46a2.1 2.1 0 1 0 4.2 0a2.1 2.1 0 1 0 -4.2 0ZM892.02 1775.58L894.41 1779.27L896.74 1776.29L892.58 1774.87ZM893.47 1777.78a2.1 2.1 0 1 0 4.2 0a2.1 2.1 0 1 0 -4.2 0ZM892.02 1774.87L887.86 1776.29L890.19 1779.27L892.58 1775.58ZM886.93 1777.78a2.1 2.1 0 1 0 4.2 0a2.1 2.1 0 1 0 -4.2 0Z" fill="#000"/>
<text x="903.3" y="1783.1" font-size="22.5" stroke="#000" stroke-width="0.45">#</text>
<text x="918.5" y="1783.1" font-size="22.5" stroke="#000" stroke-width="0.45">$</text>
<path d="M892.75 1814.92L894.19 1809.88L890.41 1809.88L891.85 1814.92ZM890.2 1809.88a2.1 2.1 0 1 0 4.2 0a2.1 2.1 0 1 0 -4.2 0ZM892.47 1815.34L897.37 1814.92L895.95 1811.41L892.13 1814.51ZM894.56 1813.16a2.1 2.1 0 1 0 4.2 0a2.1 2.1 0 1 0 -4.2 0ZM892.47 1814.51L888.65 1811.41L887.23 1814.92L892.13 1815.34ZM885.84 1813.16a2.1 2.1 0 1 0 4.2 0a2.1 2.1 0 1 0 -4.2 0ZM892.02 1815.28L894.41 1818.97L896.74 1815.99L892.58 1814.57ZM893.47 1817.48a2.1 2.1 0 1 0 4.2 0a2.1 2.1 0 1 0 -4.2 0ZM892.02 1814.57L887.86 1815.99L890.19 1818.97L892.58 1815.28ZM886.93 1817.48a2.1 2.1 0 1 0 4.2 0a2.1 2.1 0 1 0 -4.2 0Z" fill="#000"/>
<text x="903.3" y="1822.8" font-size="22.5" stroke="#000" stroke-width="0.45">#</text>
<text x="918.5" y="1822.8" font-size="22.5" stroke="#000" stroke-width="0.45">$</text>
<text transform="translate(932.4 1822.8) scale(0.96 1)" font-size="22.5" stroke="#000" stroke-width="0.45">&amp;</text>
<text transform="translate(60.5 360.2) rotate(-90) scale(1 1)" font-size="33">OD<tspan class="r" font-size="20.7" dy="6.8">492</tspan><tspan dy="-6.8"> Values</tspan></text>
<text transform="translate(60.5 993.4) rotate(-90) scale(0.96 1)" font-size="33">OD<tspan class="r" font-size="20.2" dy="7.3">492</tspan><tspan dy="-7.3"> Values</tspan></text>
<text transform="translate(64.8 1657.3) rotate(-90) scale(1 1)" font-size="34">OD<tspan class="r" font-size="21.3" dy="7">492</tspan><tspan dy="-7"> Values</tspan></text>
<path d="M26 23H35.5L26 31.5Z" fill="#fff"/>
<circle cx="31.9" cy="34.6" r="5.5" fill="#000"/>
<path d="M51 1266H60V1281L56.2 1279.4L55.6 1275.8L54 1272.6L51.5 1270.6Z" fill="#fff"/>
<circle cx="50.6" cy="1279.6" r="5.6" fill="#000"/>
<ellipse cx="360" cy="882.2" rx="2.6" ry="1.2" fill="#111"/>
</svg></body></html>
